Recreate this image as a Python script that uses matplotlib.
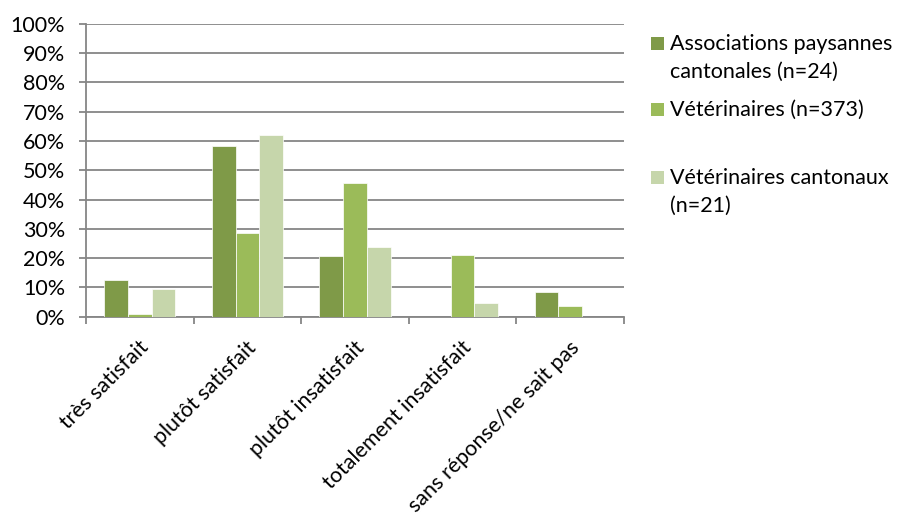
import matplotlib.pyplot as plt
import numpy as np
from matplotlib.patches import Rectangle
from matplotlib.transforms import ScaledTranslation

plt.rcParams['font.family'] = ['Lato', 'DejaVu Sans']

categories = ["très satisfait", "plutôt satisfait", "plutôt insatisfait",
              "totalement insatisfait", "sans réponse/ne sait pas"]
series_names = ["Associations paysannes\ncantonales (n=24)",
                "Vétérinaires (n=373)",
                "Vétérinaires cantonaux\n(n=21)"]
assoc = [12.5, 58.3, 20.8, 0.0, 8.3]
vets = [1.0, 28.5, 45.8, 21.0, 3.8]
vets_cant = [9.5, 61.9, 23.8, 4.8, 0.0]
colors = ["#7F9A48", "#9BBB59", "#C6D6AB"]
grid_color = "#868686"
fs = 15.5

W, H = 900, 518
fig = plt.figure(figsize=(W / 100, H / 100), dpi=100)
ax = fig.add_axes([86 / W, 1 - 316.7 / H, 538 / W, 293 / H])

x = np.arange(len(categories))
w = 0.221
for i, (vals, c) in enumerate(zip([assoc, vets, vets_cant], colors)):
    ax.bar(x + (i - 1) * w, vals, width=w, color=c, edgecolor="white",
           linewidth=0.5, zorder=3)

ax.set_xlim(-0.5, len(categories) - 0.5)
ax.set_ylim(0, 100)
ax.set_yticks(np.arange(0, 101, 10))
ax.set_yticklabels([f"{v}%" for v in range(0, 101, 10)], fontsize=fs)
ax.yaxis.grid(True, color=grid_color, linewidth=1.3, zorder=0)
ax.tick_params(axis="y", length=5, color=grid_color, width=1.3, pad=10)

ax.set_xticks(x)
ax.set_xticklabels(categories, rotation=45, ha="right", va="center",
                   rotation_mode="anchor", fontsize=fs)
ax.tick_params(axis="x", which="major", length=0, pad=20)
ax.set_xticks(np.arange(-0.5, len(categories)), minor=True)
ax.tick_params(axis="x", which="minor", length=5, color=grid_color, width=1.3)
shift = ScaledTranslation(6 / 100, 0, fig.dpi_scale_trans)
for lab in ax.get_xticklabels():
    lab.set_transform(lab.get_transform() + shift)

for side in ["top", "right"]:
    ax.spines[side].set_visible(False)
for side in ["left", "bottom"]:
    ax.spines[side].set_color(grid_color)
    ax.spines[side].set_linewidth(1.3)

# legend drawn by hand: square sits on the first text line of each entry
entry_baselines = [49.5, 116, 184]
line_step = 28.3
for name, c, base in zip(series_names, colors, entry_baselines):
    fig.add_artist(Rectangle((651 / W, 1 - base / H), 13 / W, 13 / H,
                             transform=fig.transFigure, facecolor=c,
                             edgecolor="none"))
    for k, line in enumerate(name.split("\n")):
        fig.text(670 / W, 1 - (base + k * line_step) / H, line,
                 fontsize=fs, va="baseline", ha="left")

fig.savefig("out.png", dpi=100)
